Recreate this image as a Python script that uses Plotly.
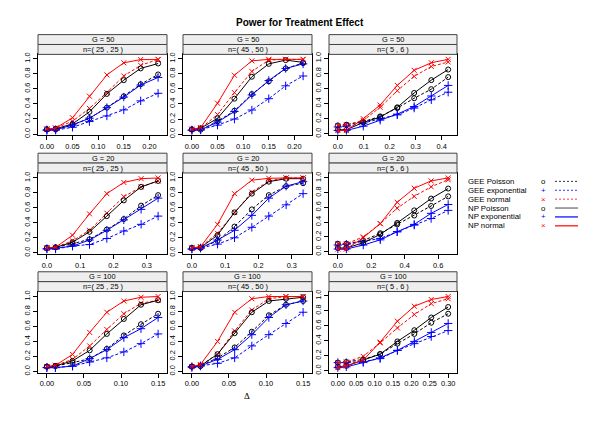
import plotly.graph_objects as go

# ---------------- data ----------------
row_labels = ["G = 50", "G = 20", "G = 100"]
col_labels = ["n=( 25 , 25 )", "n=( 45 , 50 )", "n=( 5 , 6 )"]

series_names = ["GEE Poisson", "GEE exponential", "GEE normal",
                "NP Poisson", "NP exponential", "NP normal"]

panel_G50_n25 = dict(
    delta=[0, 0.017, 0.05, 0.083, 0.117, 0.15, 0.183, 0.217],
    gee_pois=[0.06, 0.06, 0.12, 0.21, 0.35, 0.50, 0.66, 0.79],
    gee_exp=[0.048, 0.052, 0.09, 0.165, 0.24, 0.32, 0.44, 0.54],
    gee_norm=[0.065, 0.08, 0.17, 0.34, 0.55, 0.77, 0.91, 0.99],
    np_pois=[0.065, 0.07, 0.134, 0.294, 0.532, 0.714, 0.87, 0.935],
    np_exp=[0.056, 0.056, 0.12, 0.21, 0.35, 0.49, 0.65, 0.75],
    np_norm=[0.065, 0.078, 0.216, 0.502, 0.784, 0.944, 0.987, 0.987],
)
panel_G50_n45 = dict(
    delta=[0, 0.017, 0.05, 0.083, 0.117, 0.15, 0.183, 0.217],
    gee_pois=[0.06, 0.06, 0.17, 0.31, 0.53, 0.70, 0.87, 0.94],
    gee_exp=[0.05, 0.06, 0.12, 0.20, 0.32, 0.47, 0.64, 0.77],
    gee_norm=[0.065, 0.078, 0.26, 0.55, 0.83, 0.98, 0.99, 0.99],
    np_pois=[0.065, 0.078, 0.21, 0.47, 0.76, 0.93, 0.98, 0.95],
    np_exp=[0.056, 0.056, 0.16, 0.30, 0.52, 0.71, 0.87, 0.93],
    np_norm=[0.065, 0.087, 0.41, 0.78, 0.97, 0.99, 0.99, 0.99],
)
panel_G50_n5 = dict(
    delta=[0, 0.033, 0.098, 0.163, 0.229, 0.294, 0.36, 0.425],
    gee_pois=[0.11, 0.12, 0.16, 0.23, 0.34, 0.47, 0.59, 0.75],
    gee_exp=[0.09, 0.10, 0.14, 0.20, 0.25, 0.34, 0.45, 0.55],
    gee_norm=[0.11, 0.12, 0.175, 0.35, 0.57, 0.76, 0.89, 0.95],
    np_pois=[0.053, 0.053, 0.15, 0.22, 0.35, 0.54, 0.71, 0.85],
    np_exp=[0.044, 0.044, 0.10, 0.18, 0.26, 0.36, 0.50, 0.64],
    np_norm=[0.044, 0.044, 0.20, 0.38, 0.64, 0.84, 0.94, 0.985],
)
panel_G20_n25 = dict(
    delta=[0, 0.026, 0.077, 0.128, 0.18, 0.231, 0.283, 0.334],
    gee_pois=[0.063, 0.072, 0.12, 0.18, 0.31, 0.45, 0.63, 0.77],
    gee_exp=[0.05, 0.05, 0.09, 0.11, 0.19, 0.29, 0.38, 0.49],
    gee_norm=[0.063, 0.072, 0.16, 0.30, 0.53, 0.75, 0.88, 0.96],
    np_pois=[0.063, 0.072, 0.14, 0.28, 0.49, 0.70, 0.88, 0.96],
    np_exp=[0.055, 0.06, 0.09, 0.17, 0.30, 0.44, 0.58, 0.73],
    np_norm=[0.063, 0.072, 0.235, 0.52, 0.79, 0.94, 0.99, 1.0],
)
panel_G20_n45 = dict(
    delta=[0, 0.026, 0.077, 0.128, 0.18, 0.231, 0.283, 0.334],
    gee_pois=[0.063, 0.063, 0.16, 0.35, 0.58, 0.77, 0.89, 0.93],
    gee_exp=[0.05, 0.063, 0.115, 0.20, 0.34, 0.49, 0.64, 0.79],
    gee_norm=[0.063, 0.08, 0.26, 0.54, 0.81, 0.96, 1.0, 1.0],
    np_pois=[0.063, 0.07, 0.235, 0.54, 0.79, 0.95, 0.99, 0.99],
    np_exp=[0.05, 0.063, 0.17, 0.30, 0.50, 0.73, 0.89, 0.95],
    np_norm=[0.063, 0.08, 0.38, 0.79, 0.97, 0.995, 1.0, 1.0],
)
panel_G20_n5 = dict(
    delta=[0, 0.051, 0.152, 0.254, 0.355, 0.457, 0.558, 0.66],
    gee_pois=[0.107, 0.107, 0.15, 0.25, 0.37, 0.49, 0.62, 0.75],
    gee_exp=[0.09, 0.10, 0.14, 0.18, 0.27, 0.36, 0.45, 0.56],
    gee_norm=[0.107, 0.107, 0.20, 0.38, 0.59, 0.75, 0.88, 0.975],
    np_pois=[0.05, 0.05, 0.12, 0.235, 0.39, 0.56, 0.72, 0.856],
    np_exp=[0.036, 0.036, 0.09, 0.16, 0.27, 0.37, 0.52, 0.64],
    np_norm=[0.036, 0.036, 0.19, 0.38, 0.67, 0.86, 0.96, 1.0],
)
panel_G100_n25 = dict(
    delta=[0, 0.0115, 0.0346, 0.0577, 0.0808, 0.1038, 0.1269, 0.15],
    gee_pois=[0.063, 0.072, 0.115, 0.17, 0.30, 0.48, 0.63, 0.77],
    gee_exp=[0.05, 0.05, 0.07, 0.125, 0.18, 0.26, 0.37, 0.50],
    gee_norm=[0.063, 0.08, 0.16, 0.34, 0.56, 0.77, 0.91, 0.95],
    np_pois=[0.063, 0.072, 0.14, 0.28, 0.50, 0.70, 0.89, 0.95],
    np_exp=[0.05, 0.05, 0.07, 0.17, 0.29, 0.45, 0.57, 0.72],
    np_norm=[0.063, 0.08, 0.226, 0.52, 0.79, 0.94, 0.99, 1.0],
)
panel_G100_n45 = dict(
    delta=[0, 0.0115, 0.0346, 0.0577, 0.0808, 0.1038, 0.1269, 0.15],
    gee_pois=[0.063, 0.072, 0.18, 0.32, 0.53, 0.75, 0.89, 0.94],
    gee_exp=[0.063, 0.072, 0.107, 0.18, 0.34, 0.49, 0.64, 0.79],
    gee_norm=[0.063, 0.08, 0.23, 0.54, 0.82, 0.97, 1.0, 1.0],
    np_pois=[0.063, 0.072, 0.23, 0.51, 0.79, 0.94, 0.97, 0.99],
    np_exp=[0.05, 0.072, 0.16, 0.29, 0.49, 0.72, 0.89, 0.94],
    np_norm=[0.063, 0.09, 0.40, 0.79, 0.97, 1.0, 1.0, 1.0],
)
panel_G100_n5 = dict(
    delta=[0, 0.023, 0.069, 0.115, 0.162, 0.208, 0.254, 0.30],
    gee_pois=[0.107, 0.115, 0.15, 0.22, 0.36, 0.49, 0.64, 0.76],
    gee_exp=[0.107, 0.107, 0.12, 0.16, 0.27, 0.36, 0.455, 0.535],
    gee_norm=[0.107, 0.115, 0.19, 0.37, 0.57, 0.75, 0.895, 0.96],
    np_pois=[0.05, 0.063, 0.14, 0.22, 0.39, 0.54, 0.71, 0.85],
    np_exp=[0.04, 0.05, 0.107, 0.17, 0.27, 0.39, 0.51, 0.63],
    np_norm=[0.04, 0.063, 0.14, 0.38, 0.66, 0.86, 0.95, 0.99],
)

panels = [
    [panel_G50_n25, panel_G50_n45, panel_G50_n5],
    [panel_G20_n25, panel_G20_n45, panel_G20_n5],
    [panel_G100_n25, panel_G100_n45, panel_G100_n5],
]
y_ticks = [0.0, 0.2, 0.4, 0.6, 0.8, 1.0]

# ---------------- styling / layout ----------------
W, H = 600, 424
FONT = "Liberation Sans, Arial, sans-serif"
keys = ["gee_pois", "gee_exp", "gee_norm", "np_pois", "np_exp", "np_norm"]
colors = ["#000000", "#0000FF", "#FF0000", "#000000", "#0000FF", "#FF0000"]
dashes = ["3px,2px", "3px,2px", "3px,2px", "solid", "solid", "solid"]
symbols = ["circle-open", "cross-thin", "x-thin", "circle-open", "cross-thin", "x-thin"]
msizes = [5, 6, 5, 5, 6, 5]

col_px = [(38, 167), (183, 312), (329, 457)]
row_px = [(53, 135), (173, 255), (293, 375)]
x_dtick = [[0.05, 0.05, 0.1], [0.1, 0.1, 0.2], [0.05, 0.05, 0.05]]
x_fmt = [[".2f", ".2f", ".1f"], [".1f", ".1f", ".1f"], [".2f", ".2f", ".2f"]]
STRIP = 10
TICKSIZE = 7.4

fig = go.Figure()
shapes, annotations = [], []
layout_axes = {}

idx = 0
for r in range(3):
    for c in range(3):
        idx += 1
        p = panels[r][c]
        xs = "" if idx == 1 else str(idx)
        for k, name in enumerate(series_names):
            fig.add_trace(go.Scatter(
                x=p["delta"], y=p[keys[k]], mode="lines+markers", name=name,
                xaxis="x" + xs, yaxis="y" + xs, showlegend=False,
                line=dict(color=colors[k], width=1, dash=dashes[k]),
                marker=dict(symbol=symbols[k], size=msizes[k], color=colors[k],
                            line=dict(color=colors[k], width=1)),
            ))
        l, rr = col_px[c]
        t, b = row_px[r]
        xmax = max(p["delta"])
        xmin = min(p["delta"])
        xr = xmax - xmin
        allv = [v for k in keys for v in p[k]]
        ymin, ymax = min(allv), max(allv)
        yr = ymax - ymin
        layout_axes["xaxis" + xs] = dict(
            domain=[l / W, rr / W], anchor="y" + xs,
            range=[xmin - 0.08 * xr, xmax + 0.08 * xr],
            dtick=x_dtick[r][c], tick0=0, tickformat=x_fmt[r][c],
            ticks="outside", ticklen=4, tickcolor="#000", tickwidth=1,
            showgrid=False, zeroline=False, showline=True, mirror=True,
            linecolor="#000", linewidth=1,
            tickfont=dict(family=FONT, size=TICKSIZE, color="#000"),
        )
        layout_axes["yaxis" + xs] = dict(
            domain=[1 - b / H, 1 - t / H], anchor="x" + xs,
            range=[ymin - 0.07 * yr, ymax + 0.07 * yr],
            tickvals=y_ticks, ticktext=["%.1f" % v for v in y_ticks],
            tickangle=-90,
            ticks="outside", ticklen=4, tickcolor="#000", tickwidth=1,
            showgrid=False, zeroline=False, showline=True, mirror=True,
            linecolor="#000", linewidth=1,
            tickfont=dict(family=FONT, size=TICKSIZE, color="#000"),
        )
        # strips
        for s, (txt, y0) in enumerate([(row_labels[r], t - 2 * STRIP), (col_labels[c], t - STRIP)]):
            shapes.append(dict(type="rect", xref="paper", yref="paper",
                               x0=l / W, x1=rr / W, y0=1 - (y0 + STRIP) / H, y1=1 - y0 / H,
                               fillcolor="#EEEEEE", line=dict(color="#444444", width=1)))
            annotations.append(dict(xref="paper", yref="paper", x=(l + rr) / 2 / W,
                                    y=1 - (y0 + STRIP / 2) / H, text=txt, showarrow=False,
                                    font=dict(family=FONT, size=TICKSIZE, color="#000"),
                                    xanchor="center", yanchor="middle"))

# title and axis label
annotations.append(dict(xref="paper", yref="paper", x=300 / W, y=1 - 21 / H,
                        text="<b>Power for Treatment Effect</b>", showarrow=False,
                        font=dict(family=FONT, size=10, color="#000"),
                        xanchor="center", yanchor="middle"))
annotations.append(dict(xref="paper", yref="paper", x=247 / W, y=1 - 399 / H,
                        text="Δ", showarrow=False,
                        font=dict(family="Liberation Serif, serif", size=9, color="#000"),
                        xanchor="center", yanchor="middle"))

# custom legend
leg_y = [181.5, 190.5, 199.5, 208.5, 217.5, 226.5]
leg_sym = ["o", "+", "×", "o", "+", "×"]
leg_line_col = ["#000000", "#0000FF", "#FF0000", "#999999", "#0000FF", "#FF0000"]
leg_line_w = [0.8, 0.8, 0.8, 1.8, 1.2, 1.2]
leg_line_dash = ["2px,2px", "2px,2px", "2px,2px", "solid", "solid", "solid"]
for i, name in enumerate(series_names):
    yy = 1 - leg_y[i] / H
    annotations.append(dict(xref="paper", yref="paper", x=466 / W, y=yy, text=name,
                            showarrow=False, xanchor="left", yanchor="middle",
                            font=dict(family=FONT, size=7.8, color="#000")))
    annotations.append(dict(xref="paper", yref="paper", x=543 / W, y=yy, text=leg_sym[i],
                            showarrow=False, xanchor="center", yanchor="middle",
                            font=dict(family=FONT, size=7.8, color=colors[i])))
    shapes.append(dict(type="line", xref="paper", yref="paper", x0=555 / W, x1=578 / W,
                       y0=yy, y1=yy,
                       line=dict(color=leg_line_col[i], width=leg_line_w[i], dash=leg_line_dash[i])))

fig.update_layout(
    width=W, height=H, margin=dict(l=0, r=0, t=0, b=0),
    paper_bgcolor="#FFFFFF", plot_bgcolor="#FFFFFF",
    showlegend=False, shapes=shapes, annotations=annotations,
    font=dict(family=FONT, size=8, color="#000"),
    **layout_axes,
)
fig.write_html("out.html", config={"displayModeBar": False},
               post_script="document.body.style.margin='0px';document.body.style.padding='0px';")
